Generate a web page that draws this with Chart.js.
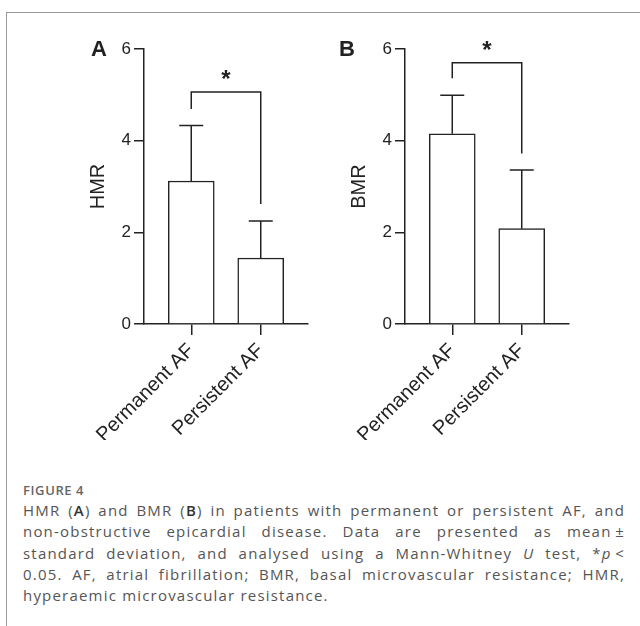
<!DOCTYPE html>
<html>
<head>
<meta charset="utf-8">
<script src="https://cdn.jsdelivr.net/npm/chart.js@4.4.0/dist/chart.umd.min.js"></script>
<style>
  html, body { margin: 0; padding: 0; background: #fff; }
  #page { position: relative; width: 640px; height: 626px; overflow: hidden; }
  #frame { position: absolute; left: 6px; top: 12px; width: 700px; height: 700px;
           border-top: 1px solid #999; border-left: 1px solid #999; }
  canvas { position: absolute; top: 0; }
  #figLabel { position: absolute; left: 23px; top: 482px; font: 600 13px "Open Sans"; color: #666;
              letter-spacing: 0.6px; line-height: 16px; }
  #caption { position: absolute; left: 23px; top: 500px; width: 602px; font: 15px "Open Sans";
             color: #555; line-height: 21.3px; letter-spacing: 1.2px; white-space: nowrap; }
  #caption .j { text-align: justify; text-align-last: justify; }
  #caption b { font-weight: 600; color: #333; }
</style>
</head>
<body>
<div id="page">
  <div id="frame"></div>
  <canvas id="chartA" width="320" height="440" style="left:0px"></canvas>
  <canvas id="chartB" width="320" height="440" style="left:261px"></canvas>
  <div id="figLabel">FIGURE 4</div>
  <div id="caption">
    <div class="j">HMR (<b>A</b>) and BMR (<b>B</b>) in patients with permanent or persistent AF, and</div>
    <div class="j">non-obstructive epicardial disease. Data are presented as mean&thinsp;±</div>
    <div class="j">standard deviation, and analysed using a Mann-Whitney <i>U</i> test, *<i>p</i>&thinsp;&lt;</div>
    <div class="j">0.05. AF, atrial fibrillation; BMR, basal microvascular resistance; HMR,</div>
    <div>hyperaemic microvascular resistance.</div>
  </div>
</div>
<script>
// Groups and values
const categories = ['Permanent AF', 'Persistent AF'];
const hmrMean = [3.12, 1.44];
const hmrSd = [1.21, 0.81];
const bmrMean = [4.15, 2.08];
const bmrSd = [0.84, 1.28];
const yTicks = [0, 2, 4, 6];
// significance bracket: [bar level, left leg end, right leg end]
const hmrBracket = [5.06, 4.69, 2.62];
const bmrBracket = [5.70, 5.36, 3.72];

const ink = '#222';
const fontFamily = '"Liberation Sans", Arial, sans-serif';

// error bars (upper only), bracket with asterisk and panel letter
const annotate = {
    id: 'annotate',
    afterDatasetsDraw(chart, args, opts) {
        const ctx = chart.ctx;
        const x = chart.scales.x;
        const y = chart.scales.y;
        ctx.save();
        ctx.strokeStyle = ink;
        ctx.lineWidth = 1.5;
        opts.mean.forEach((m, i) => {
            const px = x.getPixelForValue(i + 1);
            const top = y.getPixelForValue(m + opts.sd[i]);
            ctx.beginPath();
            ctx.moveTo(px, y.getPixelForValue(m));
            ctx.lineTo(px, top);
            ctx.moveTo(px - 12, top);
            ctx.lineTo(px + 12, top);
            ctx.stroke();
        });

        const [lvl, l, r] = opts.bracket;
        const x1 = x.getPixelForValue(1);
        const x2 = x.getPixelForValue(2);
        const yb = y.getPixelForValue(lvl);
        ctx.beginPath();
        ctx.moveTo(x1, y.getPixelForValue(l));
        ctx.lineTo(x1, yb);
        ctx.lineTo(x2, yb);
        ctx.lineTo(x2, y.getPixelForValue(r));
        ctx.stroke();

        ctx.fillStyle = ink;
        ctx.textAlign = 'center';
        ctx.textBaseline = 'alphabetic';
        ctx.font = 'bold 24px ' + fontFamily;
        ctx.fillText('*', (x1 + x2) / 2, yb - 5);

        ctx.font = 'bold 22px ' + fontFamily;
        ctx.textBaseline = 'middle';
        ctx.fillText(opts.letter, opts.letterX, chart.chartArea.top + 1);
        ctx.restore();
    }
};

function makeChart(id, label, mean, sd, bracket, letter, letterX) {
    return new Chart(document.getElementById(id), {
        type: 'bar',
        data: {
            datasets: [{
                data: mean.map((v, i) => ({ x: i + 1, y: v })),
                backgroundColor: '#fff',
                borderColor: ink,
                borderWidth: 1.5,
                barThickness: 46
            }]
        },
        options: {
            responsive: false,
            animation: false,
            layout: { padding: { left: 86, top: 49, right: 12, bottom: 0 } },
            plugins: {
                legend: { display: false },
                tooltip: { enabled: false },
                annotate: { mean: mean, sd: sd, bracket: bracket, letter: letter, letterX: letterX }
            },
            scales: {
                x: {
                    type: 'linear',
                    min: 0.32,
                    max: 2.68,
                    offset: false,
                    afterBuildTicks: s => { s.ticks = categories.map((c, i) => ({ value: i + 1 })); },
                    afterFit: s => { s.height = 116; },
                    grid: { drawOnChartArea: false, offset: false, tickLength: 11, color: ink, lineWidth: 1.5 },
                    border: { color: ink, width: 1.5 },
                    ticks: {
                        callback: v => categories[v - 1],
                        minRotation: 45,
                        maxRotation: 45,
                        autoSkip: false,
                        padding: 4,
                        color: ink,
                        font: { family: fontFamily, size: 20 }
                    }
                },
                y: {
                    min: 0,
                    max: 6,
                    afterBuildTicks: s => { s.ticks = yTicks.map(v => ({ value: v })); },
                    afterFit: s => { s.width = 58; },
                    grid: { drawOnChartArea: false, tickLength: 10, color: ink, lineWidth: 1.5 },
                    border: { color: ink, width: 1.5 },
                    ticks: { padding: 3, color: ink, font: { family: fontFamily, size: 17 } },
                    title: {
                        display: true,
                        text: label,
                        color: ink,
                        padding: 0,
                        font: { family: fontFamily, size: 20 }
                    }
                }
            }
        },
        plugins: [annotate]
    });
}

makeChart('chartA', 'HMR', hmrMean, hmrSd, hmrBracket, 'A', 99);
makeChart('chartB', 'BMR', bmrMean, bmrSd, bmrBracket, 'B', 86);
</script>
</body>
</html>
